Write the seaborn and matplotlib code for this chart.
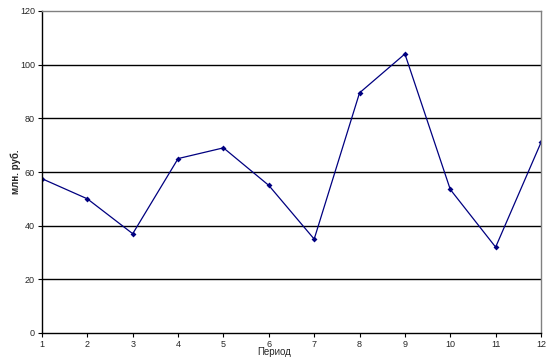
import matplotlib
matplotlib.use("Agg")
import matplotlib.pyplot as plt
import seaborn as sns
import pandas as pd

periods = [1, 2, 3, 4, 5, 6, 7, 8, 9, 10, 11, 12]
values = [57.5, 50, 37, 65, 69, 55, 35, 89.5, 104, 53.5, 32, 71]
yticks = [0, 20, 40, 60, 80, 100, 120]

sns.set_theme(style="white")
plt.rcParams['font.family'] = ['Liberation Sans', 'DejaVu Sans']

df = pd.DataFrame({"Период": periods, "val": values})

fig = plt.figure(figsize=(5.55, 3.61), dpi=100)
ax = fig.add_axes([42/555, 28/361, 499/555, 322/361])
for y in yticks[1:-1]:
    ax.axhline(y, color="black", lw=1.0, zorder=0)
sns.lineplot(data=df, x="Период", y="val", ax=ax, color="#000080", lw=0.9,
             marker="D", markersize=3, markeredgewidth=0)
ax.set_xlim(1, 12)
ax.set_ylim(0, 120)
ax.set_xticks(periods)
ax.set_yticks(yticks)
ax.tick_params(axis="both", labelsize=6.5, length=3, width=0.8, color="black",
               direction="out", bottom=True, left=True, pad=2)
for s in ["top", "right"]:
    ax.spines[s].set_color("#808080")
    ax.spines[s].set_linewidth(1.0)
for s in ["left", "bottom"]:
    ax.spines[s].set_color("black")
    ax.spines[s].set_linewidth(1.0)
ax.set_xlabel("Период", fontsize=7, labelpad=-2)
ax.xaxis.set_label_coords(0.465, -0.045)
ax.set_ylabel("млн. руб.", fontsize=7, fontweight="bold")
ax.yaxis.set_label_coords(-0.043, 0.5)
fig.savefig("out.png", dpi=100)
